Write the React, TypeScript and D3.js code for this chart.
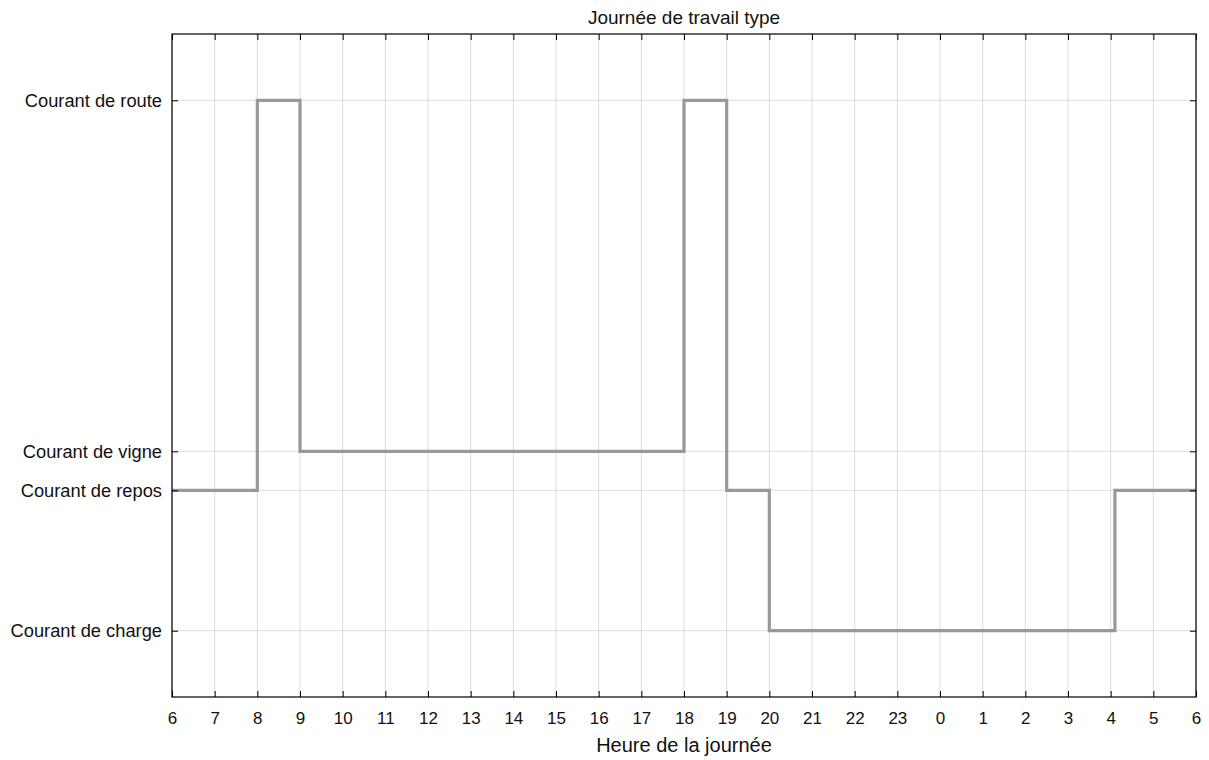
import { axisBottom, axisLeft, axisRight, axisTop, scaleLinear, select, line, curveStepAfter } from 'd3';
import { useRef, useEffect } from 'react';

// hour of day (after midnight continues past 24)
const hours = [6, 8, 9, 18, 19, 20, 28.1, 30];
const states = ['Courant de repos', 'Courant de route', 'Courant de vigne', 'Courant de route', 'Courant de repos', 'Courant de charge', 'Courant de repos', 'Courant de repos'];

const yLabels = ['Courant de charge', 'Courant de repos', 'Courant de vigne', 'Courant de route'];
const yLevels = [-3.6, 0, 1, 10];
const xTicks = [6, 7, 8, 9, 10, 11, 12, 13, 14, 15, 16, 17, 18, 19, 20, 21, 22, 23, 24, 25, 26, 27, 28, 29, 30];

const App = () => {
  const svgRef = useRef(null);
  const width = 1209;
  const height = 760;
  const margin = { left: 172, right: 13, top: 34, bottom: 63 };
  const w = width - margin.left - margin.right;
  const h = height - margin.top - margin.bottom;

  useEffect(() => {
    document.body.style.margin = '0';
    const x = scaleLinear().domain([6, 30]).range([0, w]);
    const y = scaleLinear().domain([-5.3, 11.7]).range([h, 0]);
    const levelOf = (name) => yLevels[yLabels.indexOf(name)];

    const svgEl = select(svgRef.current);
    svgEl.selectAll('*').remove();
    const svg = svgEl.append('g').attr('transform', `translate(${margin.left},${margin.top})`);
    const font = '"Liberation Sans", Arial, sans-serif';

    // grid
    svg.append('g')
      .selectAll('line')
      .data(xTicks)
      .enter()
      .append('line')
      .attr('x1', (d) => x(d))
      .attr('x2', (d) => x(d))
      .attr('y1', 0)
      .attr('y2', h)
      .attr('stroke', '#dcdcdc');
    svg.append('g')
      .selectAll('line')
      .data(yLevels)
      .enter()
      .append('line')
      .attr('x1', 0)
      .attr('x2', w)
      .attr('y1', (d) => y(d))
      .attr('y2', (d) => y(d))
      .attr('stroke', '#dcdcdc');

    // data line
    const pts = hours.map((t, i) => ({ t, v: levelOf(states[i]) }));
    const gLine = line()
      .x((d) => x(d.t))
      .y((d) => y(d.v))
      .curve(curveStepAfter);
    svg.append('path')
      .attr('d', gLine(pts))
      .attr('fill', 'none')
      .attr('stroke', '#999999')
      .attr('stroke-width', 3.2);

    // axes
    const fmt = (d) => `${d % 24}`;
    const styleAxis = (g, size) => {
      g.select('.domain').remove();
      g.selectAll('line').attr('stroke', '#000');
      if (!size) {
        g.selectAll('text').remove();
        return;
      }
      g.selectAll('text')
        .attr('fill', '#111')
        .attr('font-family', font)
        .attr('font-size', size);
    };

    const xb = svg.append('g').attr('transform', `translate(0,${h})`)
      .call(axisBottom(x).tickValues(xTicks).tickFormat(fmt).tickSizeInner(-6).tickSizeOuter(0).tickPadding(15));
    styleAxis(xb, 17);
    const xt = svg.append('g')
      .call(axisTop(x).tickValues(xTicks).tickSizeInner(-6).tickSizeOuter(0));
    styleAxis(xt, 0);

    const yl = svg.append('g')
      .call(axisLeft(y).tickValues(yLevels).tickFormat((d) => yLabels[yLevels.indexOf(d)]).tickSizeInner(-6).tickSizeOuter(0).tickPadding(10));
    styleAxis(yl, 18.3);
    const yr = svg.append('g').attr('transform', `translate(${w},0)`)
      .call(axisRight(y).tickValues(yLevels).tickSizeInner(-6).tickSizeOuter(0));
    styleAxis(yr, 0);

    // frame
    svg.append('rect')
      .attr('x', 0)
      .attr('y', 0)
      .attr('width', w)
      .attr('height', h)
      .attr('fill', 'none')
      .attr('stroke', '#000')
      .attr('stroke-width', 1.2);

    svg.append('text')
      .attr('x', w / 2)
      .attr('y', -10)
      .attr('text-anchor', 'middle')
      .attr('font-family', font)
      .attr('font-size', 19)
      .attr('fill', '#111')
      .text('Journée de travail type');

    svg.append('text')
      .attr('x', w / 2)
      .attr('y', h + 55)
      .attr('text-anchor', 'middle')
      .attr('font-family', font)
      .attr('font-size', 20)
      .attr('fill', '#111')
      .text('Heure de la journée');
  }, []);

  return <svg ref={svgRef} width={width} height={height} style={{ display: 'block' }} />;
};

export default App;
